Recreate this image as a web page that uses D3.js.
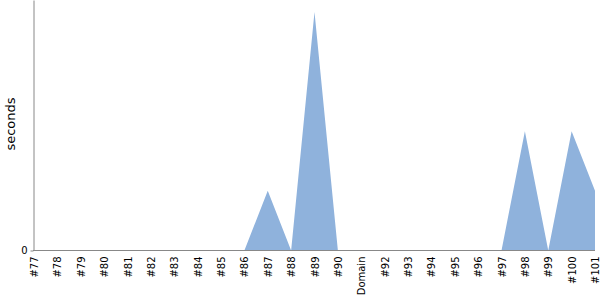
<!DOCTYPE html>
<html>
<head>
<meta charset="utf-8">
<script src="https://cdn.jsdelivr.net/npm/d3@7"></script>
<style>
body { margin: 0; background: #fff; }
</style>
</head>
<body>
<script>
width = 600;
height = 300;
margin = { top: 0, right: 5, bottom: 49, left: 33 }
var font = "'DejaVu Sans', Verdana, sans-serif";

var builds = ["#77","#78","#79","#80","#81","#82","#83","#84","#85","#86","#87","#88","#89","#90",
              "Domain","#92","#93","#94","#95","#96","#97","#98","#99","#100","#101"];
var seconds = [0,0,0,0,0,0,0,0,0,0,1,0,4,0,0,0,0,0,0,0,0,2,0,2,1];
var yTicks = [0];

var data = builds.map((b, i) => ({ build: b, value: seconds[i] }));

x = d3.scalePoint()
    .domain(builds)
    .range([margin.left + 1, width - margin.right]);

y = d3.scaleLinear()
    .domain([0, d3.max(seconds) * 1.05])
    .range([height - margin.bottom - 0.5, margin.top]);

const svg = d3.select('body')
    .append("svg")
    .attr('width', width)
    .attr('height', height)
    .style("font-family", font);

area = d3.area()
    .x(d => x(d.build))
    .y0(y(0))
    .y1(d => y(d.value));

svg.append("path")
    .datum(data)
    .attr("fill", "#8fb2dc")
    .attr("d", area);

// x axis
const xg = svg.append("g")
    .attr("transform", `translate(0,${height - margin.bottom - 0.5})`)
    .call(d3.axisBottom(x).tickSize(0).tickSizeOuter(0));
xg.attr("font-family", null);
xg.select(".domain").attr("stroke", "#888").attr("d", `M${margin.left},0H${width - margin.right}`);
xg.selectAll("text")
    .attr("transform", "rotate(-90)")
    .attr("text-anchor", "end")
    .attr("x", -6)
    .attr("y", 0)
    .attr("dy", "0.35em")
    .attr("fill", "#000")
    .style("font-family", font)
    .style("font-size", "10px");

// y axis
const yg = svg.append("g")
    .attr("transform", `translate(${margin.left + 0.5},0)`)
    .call(d3.axisLeft(y).tickValues(yTicks).tickFormat(d3.format("d")).tickSize(3).tickSizeOuter(0));
yg.attr("font-family", null);
yg.select(".domain").attr("stroke", "#888");
yg.selectAll(".tick line").attr("stroke", "#888");
yg.selectAll("text").attr("fill", "#000").style("font-family", font).style("font-size", "10px");

svg.append("text")
    .attr("transform", `translate(15,124) rotate(-90)`)
    .attr("text-anchor", "middle")
    .style("font-family", font)
    .style("font-size", "13px")
    .text("seconds");
</script>
</body>
</html>
